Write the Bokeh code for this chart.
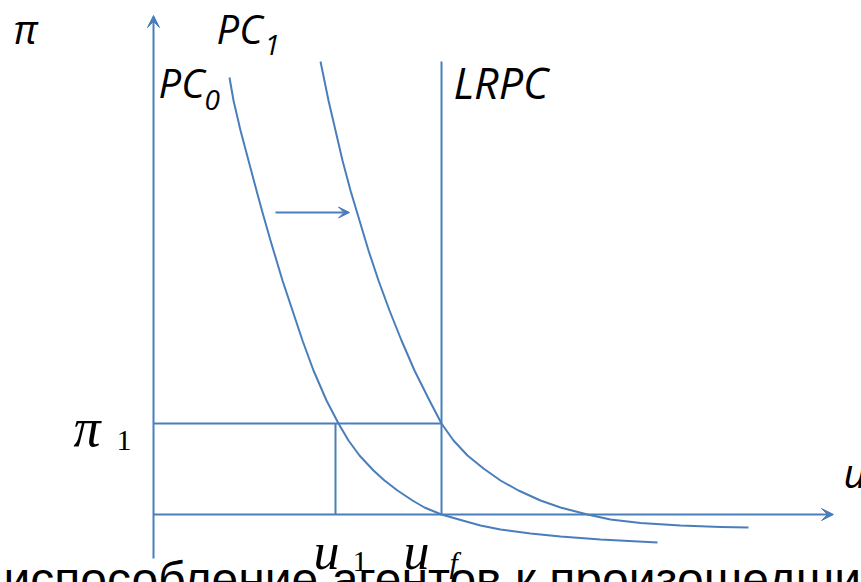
from bokeh.plotting import figure
from bokeh.models import Range1d, Arrow, VeeHead, Label
from bokeh.embed import file_html
from bokeh.resources import INLINE

# Data (diagram coordinates: u to the right, pi measured downward in the drawing frame)
pc0_u  = [229, 233, 240, 248, 256, 262, 270, 282, 292, 302, 313, 326, 338, 348, 359, 373,
          384, 397, 412, 424, 441, 462, 480, 500, 530, 560, 600, 657]
pc0_pi = [77, 100, 130, 160, 190, 212, 240, 280, 310, 340, 370, 400, 423, 440, 455, 470,
          480, 490, 500, 507, 514, 520, 525, 529, 533, 536, 539, 542]
pc1_u  = [320, 328, 335, 342, 350, 359, 368, 378, 389, 401, 414, 429, 441, 453, 467, 483,
          500, 518, 540, 560, 587, 610, 640, 680, 720, 748]
pc1_pi = [61, 100, 130, 160, 190, 220, 250, 280, 310, 340, 370, 400, 423, 440, 455, 468,
          480, 490, 500, 507, 514, 519, 522.5, 525, 526.5, 527]

origin_u, origin_pi = 153, 514
axis_u_end, axis_pi_end = 833, 15
axis_pi_bottom = 558
u_1, u_f = 335, 441
pi_1 = 423
lrpc_top = 61
shift_u = [275, 349]
shift_pi = 212

BLUE = "#4A7EBB"

p = figure(width=861, height=582, x_range=Range1d(0, 861), y_range=Range1d(582, 0),
           x_axis_type=None, y_axis_type=None, toolbar_location=None,
           output_backend="svg", min_border=0, outline_line_color=None)
p.xgrid.visible = False
p.ygrid.visible = False

lw = 2
# Curves
p.line(pc0_u, pc0_pi, line_color=BLUE, line_width=lw, line_join="round")
p.line(pc1_u, pc1_pi, line_color=BLUE, line_width=lw, line_join="round")
# LRPC
p.line([u_f, u_f], [lrpc_top, origin_pi], line_color=BLUE, line_width=lw)
# pi_1 horizontal
p.line([origin_u, u_f], [pi_1, pi_1], line_color=BLUE, line_width=lw)
# u_1 vertical
p.line([u_1, u_1], [pi_1, origin_pi], line_color=BLUE, line_width=lw)

# axes
p.add_layout(Arrow(end=VeeHead(size=12, fill_color=BLUE, line_color=BLUE, line_width=1),
                   x_start=origin_u, y_start=axis_pi_bottom, x_end=origin_u, y_end=axis_pi_end,
                   line_color=BLUE, line_width=lw))
p.add_layout(Arrow(end=VeeHead(size=12, fill_color=BLUE, line_color=BLUE, line_width=1),
                   x_start=origin_u, y_start=origin_pi, x_end=axis_u_end, y_end=origin_pi,
                   line_color=BLUE, line_width=lw))
# shift arrow
p.add_layout(Arrow(end=VeeHead(size=11, fill_color=BLUE, line_color=BLUE, line_width=1),
                   x_start=shift_u[0], y_start=shift_pi, x_end=shift_u[1], y_end=shift_pi,
                   line_color=BLUE, line_width=lw))

SANS = "Open Sans"
SERIF = "Liberation Serif"

def lab(x, y, t, font, size, style="italic", color="black"):
    p.add_layout(Label(x=x, y=y, text=t, text_font=font, text_font_size=f"{size}px",
                       text_font_style=style, text_color=color, text_baseline="alphabetic",
                       text_align="left"))

lab(13, 28, "π", SANS, 40)
lab(216, 28, "PC", SANS, 40)
lab(264, 44, "1", SANS, 28)
lab(158, 82, "PC", SANS, 40)
lab(204, 99, "0", SANS, 28)
lab(453, 82, "LRPC", SANS, 43)
lab(843, 472, "u", SANS, 40)

lab(73, 427, "π", SERIF, 54)
lab(116, 440, "1", SERIF, 30, style="normal")
lab(313, 551, "u", SERIF, 52)
lab(352, 561, "1", SERIF, 30, style="normal")
lab(403, 551, "u", SERIF, 52)
lab(449, 562, "f", SERIF, 30)

lab(3, 579, "испособление агентов к произошедшим", "Liberation Sans", 48, style="normal")

open("out.html", "w").write(file_html(p, INLINE))
